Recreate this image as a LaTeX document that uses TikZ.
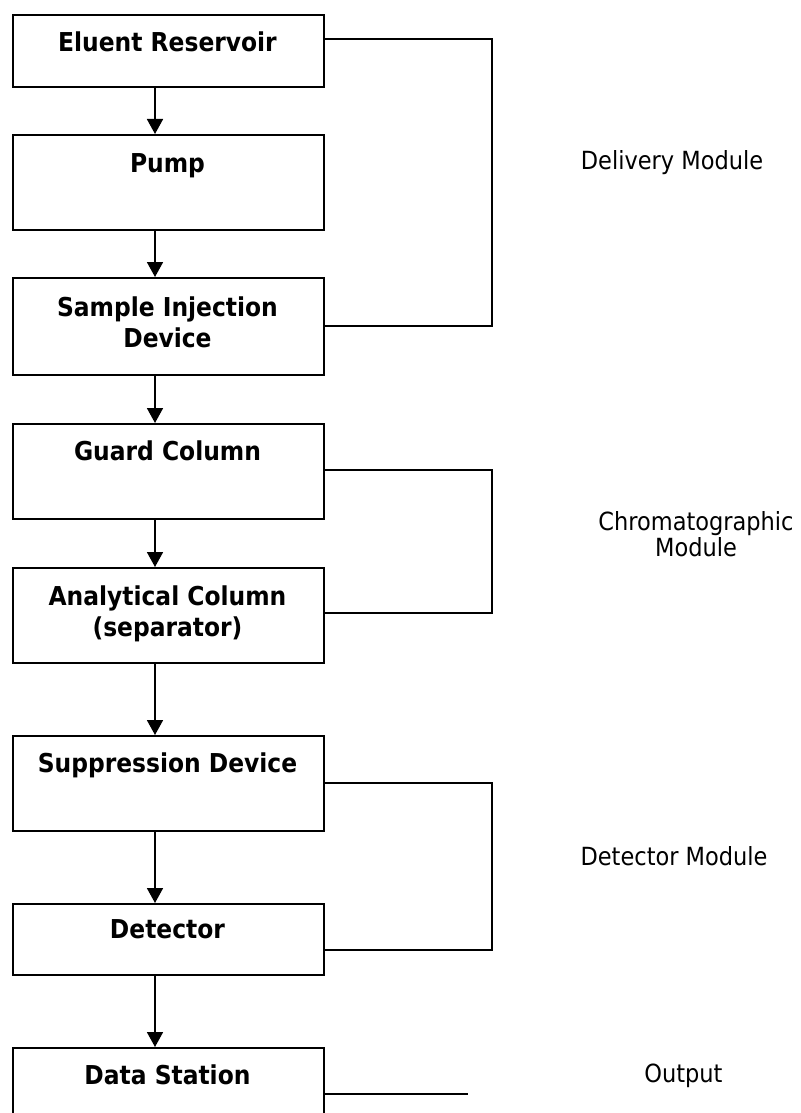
\documentclass[tikz,border=0pt]{standalone}
\usepackage{fontspec}
\setmainfont{DejaVu Sans Condensed}[BoldFont={DejaVu Sans Condensed Bold}]
\usetikzlibrary{arrows.meta}
\begin{document}
\begin{tikzpicture}[x=1pt,y=-1pt,
  box/.style={draw,line width=1.8pt,minimum width=311pt,inner sep=0pt,anchor=north west},
  btxt/.style={anchor=base,inner sep=0pt,font=\fontsize{26}{31}\selectfont\bfseries},
  lbl/.style={anchor=base,inner sep=0pt,font=\fontsize{25}{25}\selectfont},
  conn/.style={line width=1.8pt},
  arr/.style={line width=1.8pt,-{Triangle[width=16pt,length=15pt]}}]
\useasboundingbox (0,0) rectangle (800,1113);
\clip (0,0) rectangle (800,1113);
\fill[white] (0,0) rectangle (800,1113);
% boxes
\node[box,minimum height=72pt] (b1) at (12,14) {};
\node[box,minimum height=95pt] (b2) at (12,134) {};
\node[box,minimum height=97pt] (b3) at (12,277) {};
\node[box,minimum height=95pt] (b4) at (12,423) {};
\node[box,minimum height=95pt] (b5) at (12,567) {};
\node[box,minimum height=95pt] (b6) at (12,735) {};
\node[box,minimum height=71pt] (b7) at (12,903) {};
\node[box,minimum height=95pt] (b8) at (12,1047) {};
% box texts
\node[btxt] (t1) at (167.5,52) {Eluent Reservoir};
\node[btxt] (t2) at (167.5,172) {Pump};
\node[btxt] (t3) at (167.5,316) {\begin{tabular}[t]{@{}c@{}}Sample Injection\\Device\end{tabular}};
\node[btxt] (t4) at (167.5,460) {Guard Column};
\node[btxt] (t5) at (167.5,605) {\begin{tabular}[t]{@{}c@{}}Analytical Column\\(separator)\end{tabular}};
\node[btxt] (t6) at (167.5,772) {Suppression Device};
\node[btxt] (t7) at (167.5,938) {Detector};
\node[btxt] (t8) at (167.5,1084) {Data Station};
% arrows
\coordinate (ax) at (155,0);
\draw[arr] (b1.south -| ax) -- (b2.north -| ax);
\draw[arr] (b2.south -| ax) -- (b3.north -| ax);
\draw[arr] (b3.south -| ax) -- (b4.north -| ax);
\draw[arr] (b4.south -| ax) -- (b5.north -| ax);
\draw[arr] (b5.south -| ax) -- (b6.north -| ax);
\draw[arr] (b6.south -| ax) -- (b7.north -| ax);
\draw[arr] (b7.south -| ax) -- (b8.north -| ax);
% brackets
\coordinate (r1) at (492,39);
\coordinate (r2) at (492,326);
\coordinate (r3) at (492,470);
\coordinate (r4) at (492,613);
\coordinate (r5) at (492,783);
\coordinate (r6) at (492,950);
\coordinate (o1) at (468,1094);
\draw[conn] (b1.east |- r1) -- (r1) -- (r2) -- (b3.east |- r2);
\draw[conn] (b4.east |- r3) -- (r3) -- (r4) -- (b5.east |- r4);
\draw[conn] (b6.east |- r5) -- (r5) -- (r6) -- (b7.east |- r6);
\draw[conn] (b8.east |- o1) -- (o1);
% module labels
\node[lbl] (l1) at (672,169) {Delivery Module};
\node[lbl] (l2) at (696,530) {\begin{tabular}[t]{@{}c@{}}Chromatographic\\Module\end{tabular}};
\node[lbl] (l3) at (674,865) {Detector Module};
\node[lbl] (l4) at (683.5,1082) {Output};
\end{tikzpicture}
\end{document}
